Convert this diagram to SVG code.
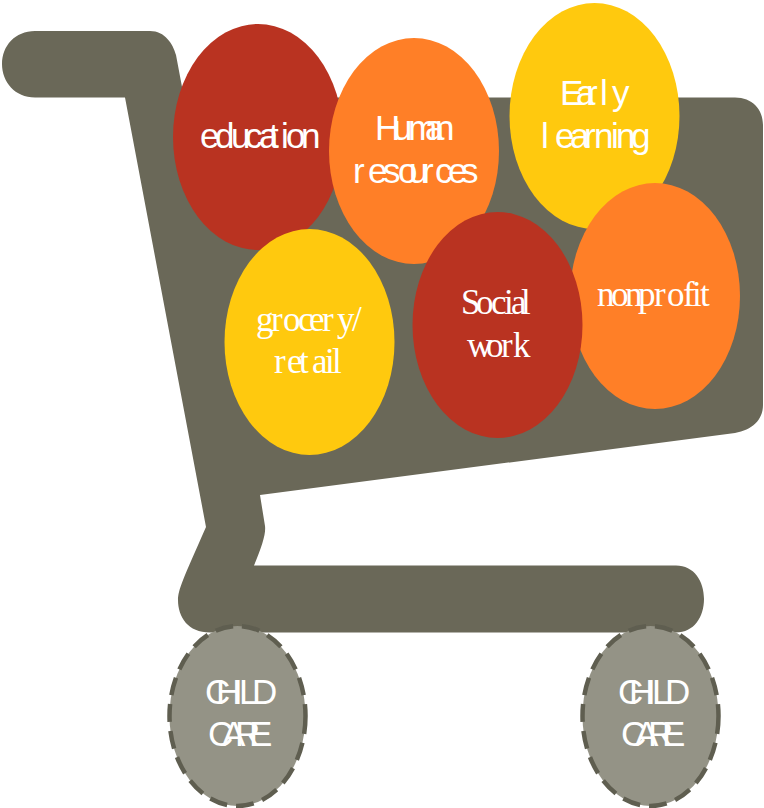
<svg xmlns="http://www.w3.org/2000/svg" width="764" height="808" viewBox="0 0 764 808">
<style>
.sans{font-family:"Liberation Sans",Arial,sans-serif;font-size:35px;fill:#fff}
.serif{font-family:"Liberation Serif","Times New Roman",serif;font-size:35px;fill:#fff}
.red{fill:#b93321}.orange{fill:#ff7f27}.yellow{fill:#ffc90e}
.wheel{fill:#949386;stroke:#5f5e50;stroke-width:4.500;stroke-dasharray:18 9}
</style>
<g id="cart"><path fill="#6a6858" d="M35 31H150C165 31 173 44 176 55L184 97.500H735C752 97.500 763 109 763 125V405C763 420 752 430 735 433L260 495L265 526C266 534 262 546 254 565.500H676C694 565.500 704 581 704 599C704 617 694 632.500 676 632.500H210C188 632.500 178 617 178 600C178 590 183 579 206 527L125 97.500H35C15 97.500 2 82 2 64C2 46 15 31 35 31Z"/></g>
<g id="connectors"/>
<g id="education"><ellipse class="red" cx="258" cy="137" rx="85" ry="113"/><text class="sans" y="148" x="200 215 231 245 259 269 281 286 301">education</text></g>
<g id="human-resources"><ellipse class="orange" cx="414" cy="151" rx="85" ry="113"/><text class="sans" y="140" x="375 393 408 425 435">Human</text><text class="sans" y="183" x="353 368 383 398 409 422 435 448 461">resources</text></g>
<g id="early-learning"><ellipse class="yellow" cx="594.500" cy="116" rx="85" ry="113"/><text class="sans" y="105" x="560 576 586 600 612">Early</text><text class="sans" y="148" x="541 555 570 584 594 611 616 631">learning</text></g>
<g id="grocery-retail"><ellipse class="yellow" cx="309.500" cy="342" rx="85" ry="113"/><text class="serif" y="331" x="256 271 283 298 309 322 337 352">grocery/</text><text class="serif" y="373" x="274 287 299 312 325 332">retail</text></g>
<g id="nonprofit"><ellipse class="orange" cx="655" cy="296" rx="85" ry="113"/><text class="serif" y="306" x="597 611 625 638 654 667 683 692 700">nonprofit</text></g>
<g id="social-work"><ellipse class="red" cx="497.500" cy="325" rx="85" ry="113"/><text class="serif" y="314" x="461 476 491 504 511 521">Social</text><text class="serif" y="357" x="467 486 501 513">work</text></g>
<g id="wheel-left"><ellipse class="wheel" cx="237.500" cy="716" rx="68" ry="90"/><text class="sans" y="704" x="205 216 233 239 252">CHILD</text><text class="sans" y="746" x="208 222 235 249">CARE</text></g>
<g id="wheel-right"><ellipse class="wheel" cx="650.500" cy="716" rx="68" ry="90"/><text class="sans" y="704" x="618 629 646 652 665">CHILD</text><text class="sans" y="746" x="621 635 648 662">CARE</text></g>
</svg>
